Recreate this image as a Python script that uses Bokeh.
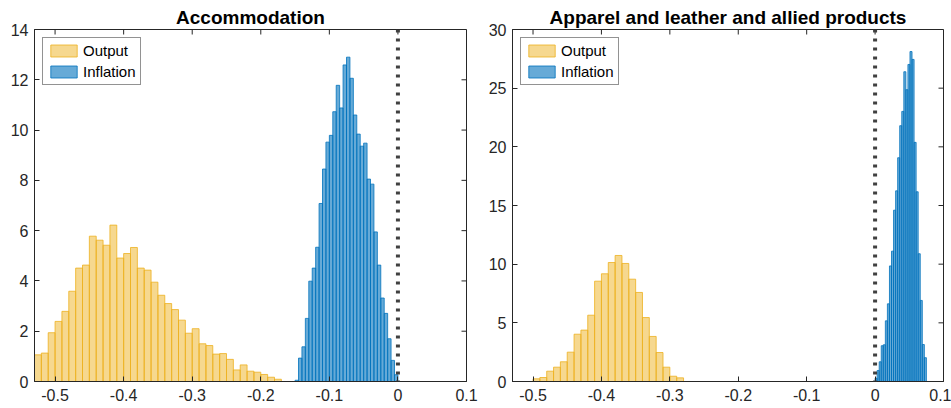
import numpy as np
from bokeh.plotting import figure
from bokeh.layouts import row
from bokeh.models import FixedTicker, Span, Range1d
from bokeh.embed import file_html
from bokeh.resources import INLINE

# ---------------- data ----------------
titles = ["Accommodation", "Apparel and leather and allied products"]
series_names = ["Output", "Inflation"]

x_ticks = [-0.5, -0.4, -0.3, -0.2, -0.1, 0.0, 0.1]
x_tick_labels = ["-0.5", "-0.4", "-0.3", "-0.2", "-0.1", "0", "0.1"]
y_ticks_left = [0, 2, 4, 6, 8, 10, 12, 14]
y_ticks_right = [0, 5, 10, 15, 20, 25, 30]

# Accommodation - Output histogram (bin start, bin width, densities)
acc_output_start = -0.53
acc_output_width = 0.01
acc_output_counts = [1.06, 1.13, 1.94, 2.39, 2.79, 3.59, 4.51, 4.63, 5.78, 5.62,
                     5.42, 6.22, 4.91, 5.09, 5.33, 4.51, 4.43, 3.95, 3.43, 3.10,
                     2.86, 2.44, 1.92, 2.10, 1.50, 1.43, 1.09, 1.11, 0.88, 0.46,
                     0.66, 0.41, 0.37, 0.28, 0.17, 0.09]

# Accommodation - Inflation histogram
acc_infl_start = -0.15
acc_infl_width = 0.005
acc_infl_counts = [0.05, 0.93, 1.38, 2.51, 3.99, 4.51, 5.34, 7.08, 8.45, 9.52,
                   9.79, 10.73, 11.78, 10.88, 12.59, 12.90, 12.06, 10.60, 9.84, 9.36,
                   9.48, 8.05, 7.85, 5.95, 4.63, 3.32, 2.71, 1.70, 0.84, 0.27]

# Apparel - Output histogram
app_output_start = -0.50
app_output_width = 0.01
app_output_counts = [0.23, 0.34, 0.88, 1.22, 1.68, 2.50, 4.03, 4.38, 5.65, 8.55,
                     9.18, 10.14, 10.74, 10.06, 8.72, 7.59, 5.45, 3.84, 2.47, 1.22,
                     0.45, 0.31]

# Apparel - Inflation histogram
app_infl_start = 0.0
app_infl_width = 0.003
app_infl_counts = [0.28, 0.94, 1.68, 3.05, 3.13, 5.17, 6.62, 9.85, 11.11, 14.6,
                   16.25, 19.07, 21.8, 23.02, 26.4, 24.87, 27.02, 28.12, 27.45, 20.38,
                   16.17, 10.89, 6.91, 3.15, 2.03]

x_limits = (-0.53, 0.1)
y_limits = [(0, 14), (0, 30)]

# ---------------- style ----------------
ORANGE = "#EDB120"
BLUE = "#0072BD"
AXC = "#262626"
FONT = "Liberation Sans"
FRAME_H = 352
TICK_PX = 5


def edges(start, width, n):
    return start + width * np.arange(n + 1)


def style_axis(ax, ticks, labels, standoff):
    ax.ticker = FixedTicker(ticks=ticks)
    ax.axis_line_color = AXC
    ax.axis_line_width = 1
    ax.major_tick_line_color = AXC
    ax.major_tick_in = TICK_PX
    ax.major_tick_out = 0
    ax.minor_tick_line_color = None
    ax.major_label_text_font = FONT
    ax.major_label_text_color = AXC
    ax.major_label_text_font_size = "16px"
    ax.major_label_standoff = standoff
    ax.major_label_overrides = {t: l for t, l in zip(ticks, labels)}


def make_panel(title, ylim, yticks, out_hist, inf_hist, border_left, frame_w, border_right):
    p = figure(frame_width=frame_w, frame_height=FRAME_H,
               min_border_left=border_left, min_border_right=border_right,
               min_border_top=29, min_border_bottom=27,
               x_range=Range1d(*x_limits), y_range=Range1d(*ylim),
               output_backend="svg", toolbar_location=None)
    p.background_fill_color = "white"
    p.border_fill_color = "white"
    p.outline_line_color = AXC
    p.xgrid.grid_line_color = None
    p.ygrid.grid_line_color = None

    p.title.text = title
    p.title.align = "center"
    p.title.text_font = FONT
    p.title.text_font_style = "bold"
    p.title.text_font_size = "19px"
    p.title.text_color = "black"
    p.title.standoff = 3

    style_axis(p.xaxis[0], x_ticks, x_tick_labels, standoff=7)
    style_axis(p.yaxis[0], yticks, [str(v) for v in yticks], standoff=6)

    for (start, width, counts), color, name, alpha in (
            (out_hist, ORANGE, series_names[0], 0.5),
            (inf_hist, BLUE, series_names[1], 0.6)):
        e = edges(start, width, len(counts))
        p.quad(left=e[:-1], right=e[1:], bottom=0, top=counts,
               fill_color=color, fill_alpha=alpha,
               line_color=color, line_width=0.8, legend_label=name)

    # box ticks on top and right edges (MATLAB-style "box on"), 5 px long
    xt = np.array(x_ticks)
    yt = np.array(yticks, dtype=float)
    dy = TICK_PX / FRAME_H * (ylim[1] - ylim[0])
    dx = TICK_PX / frame_w * (x_limits[1] - x_limits[0])
    p.segment(x0=xt, x1=xt, y0=ylim[1], y1=ylim[1] - dy, line_color=AXC, line_width=1)
    p.segment(x0=x_limits[1], x1=x_limits[1] - dx, y0=yt, y1=yt, line_color=AXC, line_width=1)

    p.add_layout(Span(location=0, dimension="height", line_color="#404040",
                      line_width=4, line_dash="3 6"))

    lg = p.legend[0]
    lg.location = "top_left"
    lg.margin = 8
    lg.padding = 4
    lg.spacing = 4
    lg.glyph_width = 33
    lg.glyph_height = 15
    lg.label_height = 15
    lg.label_standoff = 3
    lg.label_text_font = FONT
    lg.label_text_font_size = "15px"
    lg.label_text_color = "black"
    lg.border_line_color = AXC
    lg.border_line_width = 1
    lg.background_fill_alpha = 1
    return p


p1 = make_panel(titles[0], y_limits[0], y_ticks_left,
                (acc_output_start, acc_output_width, acc_output_counts),
                (acc_infl_start, acc_infl_width, acc_infl_counts),
                34, 432, 14)
p2 = make_panel(titles[1], y_limits[1], y_ticks_right,
                (app_output_start, app_output_width, app_output_counts),
                (app_infl_start, app_infl_width, app_infl_counts),
                32, 431, 8)

layout = row(p1, p2, spacing=0)
open("out.html", "w").write(file_html(layout, INLINE))
